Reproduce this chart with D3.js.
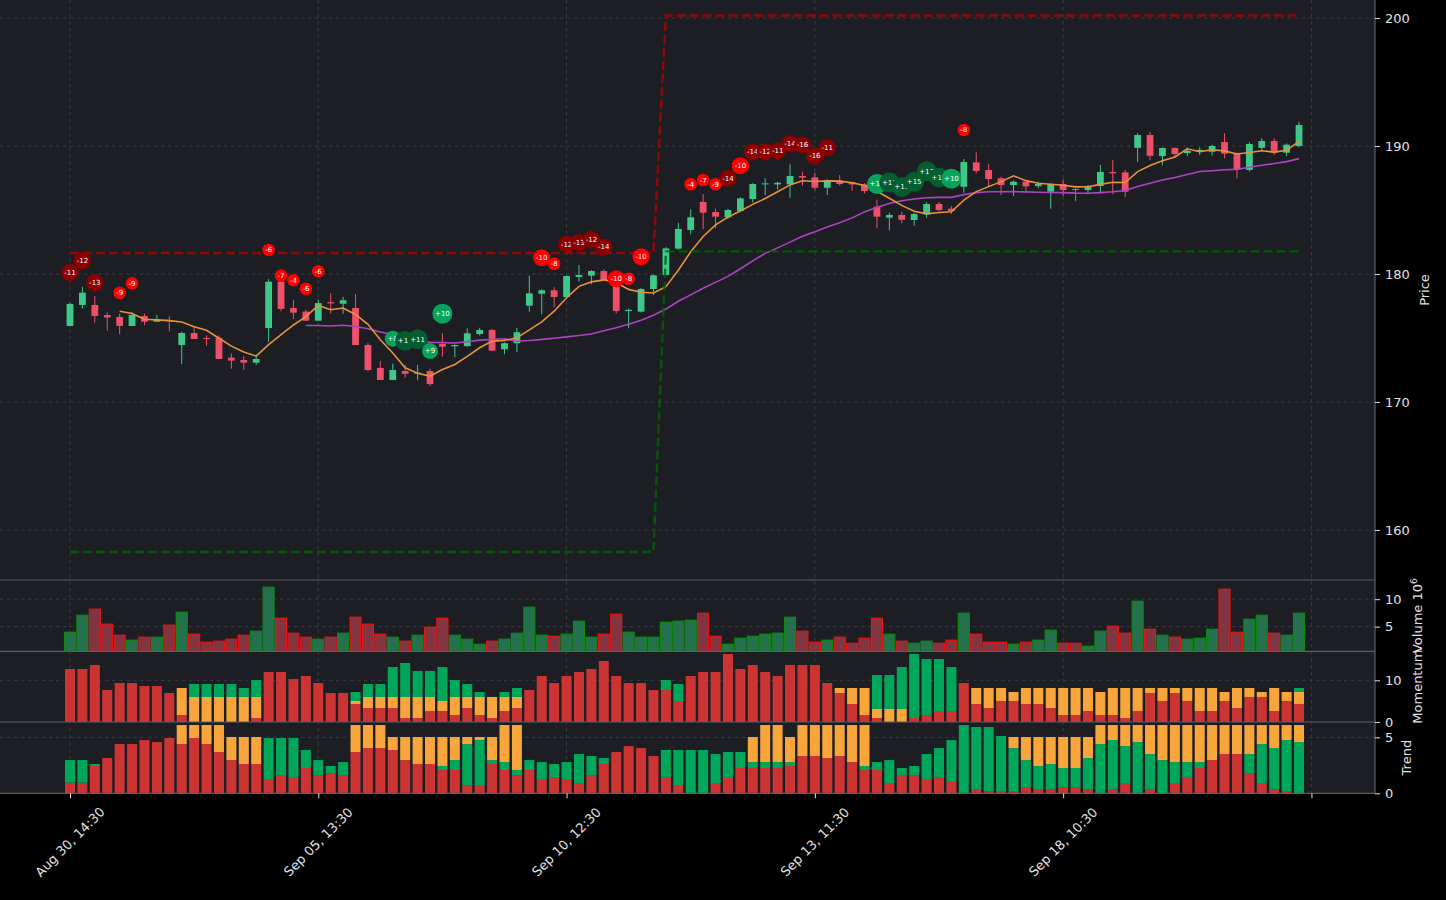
<!DOCTYPE html>
<html><head><meta charset="utf-8">
<script src="https://cdn.jsdelivr.net/npm/d3@7"></script>
<style>html,body{margin:0;padding:0;background:#000;}svg{display:block;font-family:"DejaVu Sans",sans-serif;}</style>
</head><body><svg id="c" width="1446" height="900"></svg>
<script>
// ---------- data ----------
const opens = [175.94,177.58,177.58,176.8,176.64,175.94,176.72,176.27,176.4,174.45,
175.39,175.0,175.02,173.46,173.28,173.07,175.78,179.4,177.34,177.06,
176.35,177.8,177.68,177.34,174.45,172.66,171.72,172.42,172.24,172.42,
174.53,174.35,174.37,175.31,175.63,174.12,174.59,177.52,178.46,178.73,
178.2,179.77,179.87,180.23,179.4,177.1,177.06,178.83,179.92,181.98,
183.44,185.63,184.84,184.43,184.92,185.86,187.0,187.0,187.0,187.66,
187.55,186.74,187.29,187.16,187.0,185.26,184.4,184.61,184.22,184.66,
185.47,185.1,186.82,188.72,188.13,187.48,186.95,187.21,186.87,186.43,
187.03,186.64,186.56,186.88,187.97,187.94,189.86,190.86,189.22,189.84,
189.45,189.6,189.55,190.31,189.43,188.13,189.86,190.39,189.48,190.0];
const highs = [177.75,179.0,178.28,177.0,176.9,177.0,176.9,176.8,176.7,175.5,
175.9,175.2,175.2,173.8,173.6,173.7,179.6,179.5,177.97,177.2,
178.0,178.5,178.2,178.44,174.6,173.2,173.0,172.9,172.9,172.6,
175.37,174.5,175.76,175.8,175.7,174.65,175.8,179.87,178.8,178.96,
179.9,180.7,180.3,180.37,179.6,177.3,178.9,179.95,182.1,184.0,
185.05,186.25,185.1,185.1,186.0,187.1,187.48,187.2,188.57,188.0,
187.9,187.4,187.73,187.2,187.1,185.8,184.8,184.86,184.79,185.6,
185.63,185.3,188.98,189.5,188.6,187.6,187.3,187.3,187.2,187.1,
187.4,186.7,186.95,188.52,188.9,188.13,191.0,191.1,189.9,189.9,
189.9,189.9,190.1,191.0,189.5,190.3,190.6,190.6,190.2,191.9];
const lows = [175.9,177.3,176.2,175.57,175.3,175.94,176.0,176.27,175.5,172.97,
174.92,174.4,173.36,172.6,172.5,172.9,174.7,177.1,176.46,176.35,
176.35,176.9,176.9,174.45,172.4,171.72,171.7,171.9,171.7,171.25,
173.54,173.5,174.3,175.2,174.0,173.73,173.9,177.06,176.85,177.4,
178.2,179.4,179.2,179.5,176.93,175.76,177.0,178.36,179.9,181.9,
183.1,183.5,183.57,184.3,184.9,185.57,186.17,186.6,185.96,186.9,
186.56,186.17,186.9,186.5,186.3,183.57,183.4,183.95,183.77,184.4,
184.92,184.7,186.35,187.87,186.8,186.17,186.1,186.5,186.7,185.1,
186.1,185.7,186.3,186.3,186.23,186.04,188.77,188.9,188.5,189.1,
189.2,189.3,189.25,189.04,187.47,188.0,189.7,189.3,189.2,189.9];
const closes = [177.66,178.54,176.72,176.6,175.94,176.8,176.27,176.48,176.3,175.39,
174.92,174.92,173.36,173.23,173.07,173.36,179.4,177.27,176.98,176.35,
177.73,177.7,177.95,174.45,172.5,171.72,172.5,172.2,172.29,171.4,
174.32,174.45,175.37,175.63,174.01,174.59,175.45,178.49,178.73,178.2,
179.84,179.92,180.23,179.53,177.11,177.2,178.83,179.9,182.0,183.52,
184.43,184.79,184.48,185.0,185.91,187.03,187.08,187.13,187.66,187.53,
186.74,187.34,187.03,187.0,186.48,184.48,184.61,184.24,184.69,185.47,
185.0,184.92,188.75,188.05,187.42,186.95,187.21,186.85,187.03,187.03,
186.56,186.58,186.88,187.97,187.87,186.43,190.86,189.24,189.84,189.37,
189.63,189.7,190.0,189.4,188.18,190.16,190.39,189.48,190.1,191.64];
const volumes = [3.98,7.08,8.18,5.44,3.43,2.52,3.07,3.07,5.26,7.63,
3.61,2.15,2.34,2.70,3.43,4.16,12.19,6.53,3.8,3.07,
2.70,3.07,3.8,6.71,5.44,3.61,3.07,2.34,3.43,4.89,
6.53,3.43,2.70,1.79,2.34,2.70,3.8,8.54,3.43,3.25,
3.61,5.99,3.07,3.61,7.26,3.98,3.07,3.07,5.8,5.99,
6.17,7.45,3.25,1.79,2.88,3.25,3.61,3.8,6.71,4.16,
2.15,2.52,3.07,1.97,2.88,6.53,3.61,2.34,1.97,2.34,
1.97,2.52,7.45,3.61,2.15,2.15,1.79,2.15,2.52,4.34,
1.97,1.97,1.42,4.16,5.07,3.8,9.63,4.53,3.43,3.07,
2.70,2.88,4.53,11.82,3.98,6.35,7.08,3.8,3.43,7.45];
const momRed = [12.7,12.7,13.67,7.67,9.35,9.35,8.63,8.63,6.95,1.68,
0,0,0,0,0,0.96,11.99,11.99,10.31,11.03,
9.35,6.95,6.95,4.32,3.36,3.36,3.36,0.96,0.96,2.64,
2.64,1.68,3.36,1.68,0.96,2.64,3.36,7.67,11.03,9.35,
11.03,11.99,12.71,14.63,11.03,9.35,9.35,7.67,7.67,5.04,
11.03,11.99,11.99,16.31,12.71,13.67,11.99,11.03,13.67,13.67,
13.67,9.35,6.95,4.32,1.68,0.96,0,0,0.96,1.68,
2.64,2.64,9.35,4.32,3.36,5.04,5.04,4.32,4.32,3.36,
1.68,1.68,2.64,1.68,1.68,0.96,2.64,6.95,5.04,6.95,
5.04,2.64,2.64,5.04,3.36,6.0,6.0,2.64,5.04,4.32];
const momOrange = [0,0,0,0,0,0,0,0,0,6.47,
6.0,6.0,6.0,6.0,6.0,5.04,0,0,0,0,
0,0,0,0.72,2.64,2.64,2.64,5.04,5.04,3.36,
2.40,4.32,2.64,4.32,5.04,3.36,2.64,0,0,0,
0,0,0,0,0,0,0,0,0,0,
0,0,0,0,0,0,0,0,0,0,
0,0,1.2,3.83,6.47,2.16,3.12,3.12,0,0,
0,0,0,3.83,4.79,3.11,2.15,3.83,3.83,4.79,
6.47,6.47,5.51,5.51,6.47,7.19,5.51,1.2,3.11,1.2,
3.11,5.51,5.51,2.15,4.79,2.15,1.19,5.51,2.15,2.87];
const momGreen = [0,0,0,0,0,0,0,0,0,0,
3.11,3.11,3.11,3.11,2.15,4.07,0,0,0,0,
0,0,0,2.15,3.11,3.11,7.19,8.15,6.23,6.23,
8.15,4.07,3.11,1.19,0,1.19,2.15,0,0,0,
0,0,0,0,0,0,0,0,2.40,4.07,
0,0,0,0,0,0,0,0,0,0,
0,0,0,0,0,8.15,8.15,10.07,15.35,13.43,
12.47,10.55,0,0,0,0,0,0,0,0,
0,0,0,0,0,0,0,0,0,0,
0,0,0,0,0,0,0,0,0,0.96];
const trendRed = [0.95,0.95,2.44,3.15,4.40,4.40,4.76,4.58,4.94,4.40,
4.94,4.40,3.69,2.97,2.62,2.62,1.28,1.63,1.46,2.26,
1.63,1.81,1.63,3.69,4.04,4.04,3.87,2.97,2.62,2.62,
2.08,2.08,0.74,0.74,2.62,2.08,1.63,2.08,1.28,1.46,
1.28,0.92,1.63,2.62,3.69,4.22,4.04,3.33,1.46,0.74,
0,0,0.92,1.46,2.26,2.26,2.26,2.26,2.44,3.33,
3.33,3.15,3.33,2.79,2.08,2.08,0.92,1.63,1.63,1.28,
1.46,1.10,0,0.38,0.2,0.2,0.2,0.56,0.38,0.38,
0.56,0.56,0.38,0,0.38,0.92,0,0.38,0,0.92,
1.46,2.26,2.97,3.51,3.51,1.81,0.92,0.38,0.2,0];
const trendGreen = [2.02,2.02,0.18,0,0,0,0,0,0,0,
0,0,0,0,0,0,3.66,3.31,3.48,1.61,
1.34,0.63,1.16,0,0,0,0,0,0,0,
0.36,0.89,3.66,4.02,0.35,0.71,0.45,0.89,1.51,1.16,
1.51,2.59,1.70,0.53,0,0,0,0,2.41,3.13,
3.87,3.87,2.59,2.23,1.43,0.53,0.53,0.53,0.35,0,
0,0,0,0,0.36,0.71,2.05,0.63,0.81,2.23,
2.58,3.66,6.10,5.54,5.72,4.92,3.84,2.41,2.06,2.24,
1.70,1.70,2.77,4.40,4.38,3.30,4.58,3.13,2.97,1.87,
1.33,0.53,0,0,0,1.70,3.48,3.66,4.56,4.58];
const trendOrange = [0,0,0,0,0,0,0,0,0,1.70,
1.16,1.70,2.41,2.06,2.41,2.41,0,0,0,0,
0,0,0,2.41,2.06,2.06,1.16,2.06,2.41,2.41,
2.59,2.06,0.63,0.27,2.06,3.31,4.02,0,0,0,
0,0,0,0,0,0,0,0,0,0,
0,0,0,0,0,2.24,3.31,3.31,2.24,2.77,
2.77,2.95,2.77,3.31,3.66,0,0,0,0,0,
0,0,0,0,0,0,0.99,2.06,2.59,2.41,
2.77,2.77,1.88,1.70,1.34,1.88,1.52,2.59,3.13,3.31,
3.31,3.31,3.13,2.59,2.59,2.59,1.70,2.06,1.34,1.52];
// resistance / support step levels (first index, last index, level)
const resistanceSegs = [[0,47,181.64],[48,99,200.2]];
const supportSegs = [[0,47,158.28],[48,99,181.77]];
// signal markers
const sigIdx = [0,1,2,4,5,16,17,18,19,20,26,27,28,29,30,38,39,40,41,42,43,44,45,46,50,51,52,53,54,55,56,57,58,59,60,61,65,66,67,68,69,70,71,72];
const sigPrice = [180.13,181.04,179.32,178.54,179.27,181.88,179.87,179.51,178.85,180.21,174.95,174.79,174.9,173.98,176.9,181.27,180.8,182.32,182.45,182.71,182.11,179.63,179.63,181.35,187.01,187.34,187.01,187.48,188.46,189.53,189.55,189.63,190.18,190.08,189.22,189.87,187.03,187.16,186.8,187.21,188.02,187.55,187.45,191.25];
const sigScore = [-11,-12,-13,-9,-9,-6,-7,-4,-6,-6,8,12,11,9,10,-10,-8,-12,-13,-12,-14,-10,-8,-10,-4,-7,-9,-14,-10,-14,-12,-11,-14,-16,-16,-11,10,17,13,15,17,14,10,-8];
const xTickIdx = [0,20,40,60,80,100];
const xTickLabels = ["Aug 30, 14:30","Sep 05, 13:30","Sep 10, 12:30","Sep 13, 11:30","Sep 18, 10:30",""];
const priceTicks = [160,170,180,190,200];
const volTicks = [5,10];
const momTicks = [0,10];
const trendTicks = [0,5];

// ---------- layout ----------
const svg = d3.select("#c");
const PW = 1375;
const P = {price:[0,580], vol:[580,651.3], mom:[651.3,722], trend:[722,793.3]};
const BG = "#1c1e23", GRID = "#3b3e45", SPINE = "#5a5e66", TXT = "#e2e2e2";
const x = d3.scaleLinear().domain([-5.638,105.12]).range([0,PW]);
const yP = d3.scaleLinear().domain([156.09,201.41]).range([P.price[1],P.price[0]]);
const yV = d3.scaleLinear().domain([0.5,13.5]).range([P.vol[1],P.vol[0]]);
const yM = d3.scaleLinear().domain([0,16.95]).range([P.mom[1],P.mom[0]]);
const yT = d3.scaleLinear().domain([0,6.37]).range([P.trend[1],P.trend[0]]);

svg.append("rect").attr("width",1446).attr("height",900).attr("fill","#000");
const defs = svg.append("defs");
Object.entries(P).forEach(([k,[t,b]])=>{
  svg.append("rect").attr("x",0).attr("y",t).attr("width",PW).attr("height",b-t).attr("fill",BG);
  defs.append("clipPath").attr("id","clip-"+k).append("rect").attr("x",0).attr("y",t).attr("width",PW).attr("height",b-t);
});

// grid
const grid = svg.append("g").attr("stroke",GRID).attr("stroke-width",0.9).attr("stroke-dasharray","3.5,3.5");
xTickIdx.forEach(i=>{ grid.append("line").attr("x1",x(i)).attr("x2",x(i)).attr("y1",0).attr("y2",P.trend[1]); });
function hgrid(scale,vals){ vals.forEach(v=>grid.append("line").attr("x1",0).attr("x2",PW).attr("y1",scale(v)).attr("y2",scale(v))); }
hgrid(yP,priceTicks); hgrid(yV,volTicks); hgrid(yM,[10]); hgrid(yT,[5]);

const idx = d3.range(closes.length);
const up = i => closes[i] >= opens[i];

// ---------- price panel ----------
const gp = svg.append("g").attr("clip-path","url(#clip-price)");
const GC = "#3ec98a", RC = "#ef5069";
gp.selectAll("line.w").data(idx).join("line").attr("class","w")
  .attr("x1",i=>x(i)).attr("x2",i=>x(i)).attr("y1",i=>yP(highs[i])).attr("y2",i=>yP(lows[i]))
  .attr("stroke",i=>up(i)?GC:RC).attr("stroke-width",1);
const bw = 6.8;
gp.selectAll("rect.b").data(idx).join("rect").attr("class","b")
  .attr("x",i=>x(i)-bw/2).attr("width",bw)
  .attr("y",i=>yP(Math.max(opens[i],closes[i])))
  .attr("height",i=>Math.max(1,Math.abs(yP(opens[i])-yP(closes[i]))))
  .attr("fill",i=>up(i)?GC:RC);

// moving averages computed from closes
function sma(n){ return idx.filter(i=>i>=n-1).map(i=>({i, v:d3.mean(closes.slice(i-n+1,i+1))})); }
const line = d3.line().x(d=>x(d.i)).y(d=>yP(d.v));
gp.append("path").datum(sma(20)).attr("d",line).attr("fill","none").attr("stroke","#b043c3").attr("stroke-width",1.6);
gp.append("path").datum(sma(5)).attr("d",line).attr("fill","none").attr("stroke","#e8923a").attr("stroke-width",1.6);

// levels
function segPts(segs){ const pts=[]; segs.forEach(([a,b,v])=>{ for(const i of idx) if(i>=a&&i<=b) pts.push({i,v}); }); return pts; }
gp.append("path").datum(segPts(resistanceSegs)).attr("d",line).attr("fill","none")
  .attr("stroke","#b30000").attr("stroke-opacity",0.8).attr("stroke-width",2.4).attr("stroke-dasharray","9,4");
gp.append("path").datum(segPts(supportSegs)).attr("d",line).attr("fill","none")
  .attr("stroke","#006400").attr("stroke-opacity",0.8).attr("stroke-width",2.4).attr("stroke-dasharray","9,4");

// markers
const sigs = sigIdx.map((i,k)=>({i, p:sigPrice[k], s:sigScore[k]}));
const rad = s => s<0 ? (Math.abs(s)>=10?8.6:6.3) : (s>=10?10:8);
const col = s => s<=-11 ? "#8b0000" : s<0 ? "#ff0000" : s>=11 ? "#055c2f" : "#07a35b";
sigs.forEach(d=>{
  const g = gp.append("g").attr("transform",`translate(${x(d.i)},${yP(d.p)})`);
  g.append("circle").attr("r",rad(d.s)).attr("fill",col(d.s));
  g.append("text").attr("text-anchor","middle").attr("dy","0.35em").attr("font-size",7).attr("fill","#fff")
    .text((d.s>0?"+":"")+d.s);
});

// ---------- volume ----------
const gv = svg.append("g").attr("clip-path","url(#clip-vol)");
const vw = 11;
gv.selectAll("rect").data(idx).join("rect")
  .attr("x",i=>x(i)-vw/2).attr("width",vw)
  .attr("y",i=>yV(volumes[i])).attr("height",i=>P.vol[1]-yV(volumes[i]))
  .attr("fill",i=>up(i)?"#25714f":"#833441")
  .attr("stroke",i=>up(i)?"#0b8a0b":"#ee1111").attr("stroke-width",1.2);

// ---------- stacked panels ----------
function stacked(cls, scale, layers){
  const g = svg.append("g").attr("clip-path",`url(#clip-${cls})`);
  const w = 10;
  idx.forEach(i=>{
    let base = 0;
    layers.forEach(([arr,c])=>{
      const v = arr[i];
      if(v>0){
        g.append("rect").attr("x",x(i)-w/2).attr("width",w)
          .attr("y",scale(base+v)).attr("height",scale(base)-scale(base+v)).attr("fill",c);
      }
      base += v;
    });
  });
}
const CR="#cc3333", CO="#f8a63c", CG="#00a65a";
stacked("mom", yM, [[momRed,CR],[momOrange,CO],[momGreen,CG]]);
stacked("trend", yT, [[trendRed,CR],[trendGreen,CG],[trendOrange,CO]]);

// ---------- spines ----------
const sp = svg.append("g").attr("stroke",SPINE).attr("stroke-width",1.2);
[P.vol[0],P.mom[0],P.trend[0],P.trend[1]].forEach(y=>sp.append("line").attr("x1",0).attr("x2",PW).attr("y1",y).attr("y2",y));
sp.append("line").attr("x1",PW).attr("x2",PW).attr("y1",0).attr("y2",P.trend[1]);

// ---------- axes ----------
function rightAxis(scale,ticks){
  const g = svg.append("g").attr("transform",`translate(${PW},0)`)
    .call(d3.axisRight(scale).tickValues(ticks).tickSize(5).tickPadding(5).tickFormat(d3.format("d")));
  g.select(".domain").remove();
  g.selectAll("line").attr("stroke",TXT);
  g.selectAll("text").attr("fill",TXT).attr("font-size",13).attr("font-family","DejaVu Sans");
}
rightAxis(yP,priceTicks); rightAxis(yV,volTicks); rightAxis(yM,momTicks); rightAxis(yT,trendTicks);

const gx = svg.append("g").attr("transform",`translate(0,${P.trend[1]})`)
  .call(d3.axisBottom(x).tickValues(xTickIdx).tickSize(5).tickFormat(""));
gx.select(".domain").remove();
gx.selectAll("line").attr("stroke",TXT);
xTickIdx.forEach((i,k)=>{
  if(!xTickLabels[k]) return;
  svg.append("text").attr("x",x(i)).attr("y",842).attr("text-anchor","middle").attr("dominant-baseline","central")
    .attr("transform",`rotate(-45,${x(i)},842)`).attr("fill",TXT).attr("font-size",13).text(xTickLabels[k]);
});

// y labels
function ylab(txt,xx,yy){
  return svg.append("text").attr("x",xx).attr("y",yy).attr("text-anchor","middle")
    .attr("transform",`rotate(-90,${xx},${yy})`).attr("fill",TXT).attr("font-size",13).text(txt);
}
ylab("Price",1429,(P.price[0]+P.price[1])/2);
const vl = ylab("Volume ",1422,(P.vol[0]+P.vol[1])/2);
vl.append("tspan").text("10");
vl.append("tspan").attr("dy",-5).attr("font-size",9).text("6");
ylab("Momentum",1422,(P.mom[0]+P.mom[1])/2);
ylab("Trend",1411,(P.trend[0]+P.trend[1])/2);
</script></body></html>
